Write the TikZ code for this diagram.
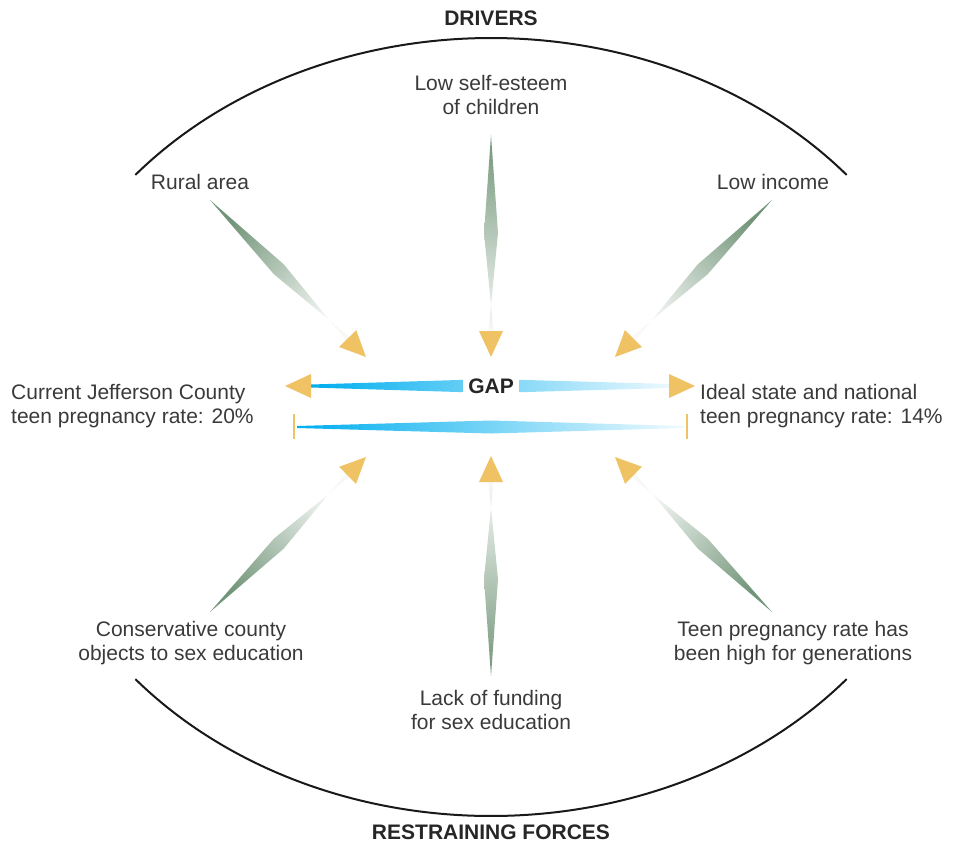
\documentclass[tikz,border=0pt]{standalone}
\usepackage{fontspec}
\setmainfont{Liberation Sans}
\usepackage{tikz}
\usetikzlibrary{calc}
\definecolor{ink}{HTML}{3A3A3A}
\definecolor{forcegreen}{HTML}{729579}
\definecolor{headyellow}{HTML}{EFC263}
\definecolor{gapcyan}{HTML}{00AEEF}
\tikzset{
  txt/.style={font=\fontsize{21}{24}\selectfont,text=ink,align=center,inner sep=0pt},
  ttl/.style={font=\fontsize{21}{24}\selectfont\bfseries,text=black!85,inner sep=0pt},
  rim/.style={line width=2pt,draw=black!90},
  endmark/.style={line width=2.4pt,draw=headyellow},
}
% force arrow: #1 tail, #2 tip, #3 shading angle
\newcommand\forcearrow[3]{%
  \coordinate (fb) at ($(#2)!26pt!(#1)$);
  \coordinate (fm) at ($(#1)!0.5!(fb)$);
  \shade[left color=forcegreen,right color=forcegreen!6,shading angle=#3]
    (#1) -- ($(fm)!7pt!90:(fb)$) -- ($(fb)!2.5pt!90:(#1)$)
    -- ($(fb)!2.5pt!-90:(#1)$) -- ($(fm)!7pt!-90:(fb)$) -- cycle;
  \fill[headyellow] (#2) -- ($(fb)!12pt!90:(#2)$) -- ($(fb)!12pt!-90:(#2)$) -- cycle;
}

\begin{document}
\begin{tikzpicture}[x=1pt,y=-1pt]
  \useasboundingbox (0,0) rectangle (960,846);
  \coordinate (ctr) at (491,427);
  % outer arcs
  \draw[rim] ($(ctr)+(-139.6:467 and 389)$) arc[start angle=-139.6,end angle=-40.4,x radius=467,y radius=389];
  \draw[rim] ($(ctr)+(139.6:467 and 389)$) arc[start angle=139.6,end angle=40.4,x radius=467,y radius=389];

  \node[ttl] (drv) at (491,18) {DRIVERS};
  \node[ttl] (rst) at (491,832) {RESTRAINING FORCES};

  \node[txt] (self) at (491,95) {Low self-esteem\\of children};
  \node[txt] (rural) at (200,182) {Rural area};
  \node[txt] (income) at (773,182) {Low income};
  \node[txt] (cons) at (191,643) {Conservative county\\objects to sex education};
  \node[txt] (lack) at (491,710) {Lack of funding\\for sex education};
  \node[txt] (teen) at (793,643) {Teen pregnancy rate has\\been high for generations};
  \node[txt,anchor=west,align=left] (current) at (11,406) {Current Jefferson County\\teen pregnancy rate: 20\%};
  \node[txt,anchor=west,align=left] (ideal) at (700,406) {Ideal state and national\\teen pregnancy rate: 14\%};

  % drivers
  \coordinate (rt) at (210,200);  \coordinate (rh) at (366,357);
  \coordinate (st) at (491,135);  \coordinate (sh) at (491,357);
  \coordinate (it) at (772,200);  \coordinate (ih) at (615,357);
  \forcearrow{rt}{rh}{45}
  \forcearrow{st}{sh}{0}
  \forcearrow{it}{ih}{-45}
  % restraining forces
  \coordinate (ct) at (210,612);  \coordinate (ch) at (366,457);
  \coordinate (lt) at (491,676);  \coordinate (lh) at (491,456);
  \coordinate (tt) at (772,612);  \coordinate (th) at (615,457);
  \forcearrow{ct}{ch}{135}
  \forcearrow{lt}{lh}{180}
  \forcearrow{tt}{th}{225}

  % gap arrow
  \coordinate (gl) at (285,386);  \coordinate (gr) at (695,386);
  \shade[left color=gapcyan,right color=gapcyan!8]
    (311,384.5) -- (491,379) -- (669,384) -- (669,388) -- (491,393) -- (311,387.5) -- cycle;
  \fill[headyellow] (gl) -- (311,374) -- (311,398) -- cycle;
  \fill[headyellow] (gr) -- (669,374) -- (669,398) -- cycle;
  \node[ttl,fill=white,inner sep=5pt] (gap) at (491,386) {GAP};

  % current vs ideal
  \coordinate (ml) at (294,427);  \coordinate (mr) at (687,427);
  \shade[left color=gapcyan,right color=gapcyan!6]
    (297,426) -- (491,420.5) -- (684,426) -- (684,428) -- (491,433.5) -- (297,428) -- cycle;
  \draw[endmark] ($(ml)+(0,-13)$) -- ($(ml)+(0,12)$);
  \draw[endmark] ($(mr)+(0,-13)$) -- ($(mr)+(0,12)$);
\end{tikzpicture}
\end{document}
